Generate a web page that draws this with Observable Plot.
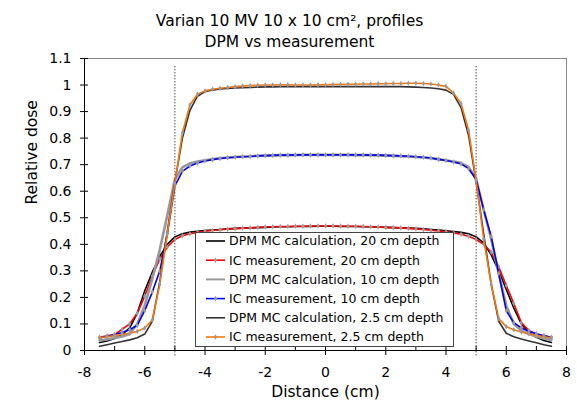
<!DOCTYPE html>
<html><head><meta charset="utf-8">
<script src="https://cdn.jsdelivr.net/npm/d3@7"></script>
<script src="https://cdn.jsdelivr.net/npm/@observablehq/plot@0.6"></script>
<style>
body{margin:0;background:#fff;}
#wrap{position:relative;width:577px;height:404px;font-family:"DejaVu Sans",Verdana,sans-serif;}
#wrap svg{display:block;}
#legend{position:absolute;left:0;top:0;}
</style></head><body><div id="wrap"></div>
<script>
// Distance (cm)
const xs = [-7.5,-7.25,-7,-6.75,-6.5,-6.25,-6,-5.75,-5.5,-5.25,-5,-4.75,-4.5,-4.25,-4,-3.75,-3.5,-3.25,-3,-2.75,-2.5,-2.25,-2,-1.75,-1.5,-1.25,-1,-0.75,-0.5,-0.25,0,0.25,0.5,0.75,1,1.25,1.5,1.75,2,2.25,2.5,2.75,3,3.25,3.5,3.75,4,4.25,4.5,4.75,5,5.25,5.5,5.75,6,6.25,6.5,6.75,7,7.25,7.5];

const dpm20 = [0.030,0.036,0.045,0.060,0.085,0.140,0.225,0.295,0.355,0.400,0.428,0.440,0.446,0.449,0.452,0.454,0.456,0.458,0.460,0.461,0.462,0.463,0.464,0.465,0.466,0.466,0.467,0.467,0.467,0.468,0.468,0.468,0.467,0.467,0.467,0.466,0.466,0.465,0.464,0.463,0.462,0.461,0.460,0.458,0.456,0.454,0.451,0.448,0.445,0.440,0.428,0.405,0.360,0.300,0.230,0.160,0.100,0.068,0.050,0.038,0.030];
const ic20 = [0.050,0.055,0.060,0.080,0.100,0.140,0.205,0.280,0.345,0.390,0.418,0.432,0.440,0.445,0.449,0.452,0.455,0.457,0.459,0.461,0.462,0.464,0.465,0.466,0.467,0.467,0.468,0.468,0.469,0.469,0.469,0.469,0.469,0.468,0.468,0.467,0.466,0.465,0.464,0.463,0.462,0.460,0.458,0.456,0.453,0.450,0.447,0.443,0.438,0.430,0.418,0.400,0.370,0.315,0.245,0.177,0.105,0.075,0.062,0.055,0.050];
const dpm10 = [0.038,0.042,0.047,0.053,0.062,0.100,0.170,0.270,0.380,0.510,0.645,0.690,0.705,0.712,0.717,0.721,0.724,0.727,0.729,0.731,0.732,0.733,0.734,0.735,0.736,0.736,0.736,0.737,0.737,0.737,0.737,0.737,0.737,0.737,0.736,0.736,0.736,0.735,0.734,0.733,0.732,0.731,0.729,0.727,0.724,0.721,0.717,0.712,0.706,0.692,0.645,0.530,0.420,0.290,0.170,0.100,0.075,0.062,0.053,0.045,0.040];
const ic10 = [0.047,0.053,0.060,0.068,0.078,0.095,0.150,0.220,0.300,0.440,0.620,0.675,0.695,0.706,0.714,0.719,0.723,0.726,0.728,0.730,0.731,0.733,0.734,0.735,0.736,0.736,0.737,0.737,0.737,0.737,0.737,0.737,0.737,0.737,0.737,0.737,0.736,0.736,0.735,0.734,0.733,0.732,0.730,0.728,0.725,0.720,0.716,0.710,0.703,0.685,0.645,0.530,0.430,0.290,0.150,0.105,0.085,0.072,0.063,0.055,0.050];
const dpm25 = [0.016,0.022,0.028,0.034,0.040,0.048,0.062,0.110,0.260,0.450,0.635,0.800,0.905,0.958,0.975,0.981,0.985,0.987,0.989,0.990,0.991,0.992,0.993,0.993,0.994,0.994,0.994,0.994,0.994,0.994,0.994,0.994,0.994,0.994,0.994,0.994,0.994,0.994,0.994,0.994,0.994,0.993,0.992,0.991,0.989,0.986,0.981,0.965,0.915,0.810,0.635,0.440,0.250,0.110,0.065,0.052,0.043,0.036,0.029,0.022,0.016];
const ic25 = [0.048,0.052,0.056,0.060,0.065,0.072,0.085,0.115,0.250,0.440,0.630,0.820,0.925,0.965,0.978,0.984,0.988,0.991,0.994,0.996,0.998,0.999,1.000,1.000,1.001,1.001,1.000,1.000,1.000,1.001,1.001,1.002,1.002,1.003,1.003,1.004,1.004,1.005,1.005,1.006,1.006,1.007,1.007,1.006,1.004,1.000,0.995,0.970,0.930,0.830,0.640,0.420,0.250,0.120,0.090,0.078,0.070,0.063,0.057,0.052,0.048];

const seriesNames = ["DPM MC calculation, 20 cm depth","IC measurement, 20 cm depth","DPM MC calculation, 10 cm depth","IC measurement, 10 cm depth","DPM MC calculation, 2.5 cm depth","IC measurement, 2.5 cm depth"];
const seriesValues = [dpm20, ic20, dpm10, ic10, dpm25, ic25];
const seriesColors = ["#000000","#ff0000","#999999","#0000ff","#333333","#ff7300"];
const seriesWidths = [1.6,1.6,2.6,1.6,1.6,1.6];
const seriesMarkers = [false,true,false,true,false,true];

const xTicks = [-8,-6,-4,-2,0,2,4,6,8];
const xMinorTicks = [-7,-5,-3,-1,1,3,5,7];
const yTicks = [0,0.1,0.2,0.3,0.4,0.5,0.6,0.7,0.8,0.9,1,1.1];
const fieldEdges = [-5,5];
const edgeSpan = [-0.02,1.07];
const titleLines = ["Varian 10 MV 10 x 10 cm², profiles","DPM vs measurement"];

const marks = [
  Plot.ruleY([1.1], {stroke:"#888"}),
  Plot.ruleX([8], {stroke:"#888"}),
  Plot.ruleX(fieldEdges, {y1: edgeSpan[0], y2: edgeSpan[1], stroke:"#000", strokeWidth:1, strokeDasharray:"1,2"}),
];
seriesValues.forEach((vals, k) => {
  marks.push(Plot.line(vals, {x:(d,i)=>xs[i], y:d=>d, stroke:seriesColors[k], strokeWidth:seriesWidths[k]}));
  if (seriesMarkers[k]) marks.push(Plot.dot(vals, {x:(d,i)=>xs[i], y:d=>d, r:1.7, fill:"#9a9a9a", symbol:"diamond"}));
});
marks.push(
  Plot.ruleY([0], {stroke:"#000"}),
  Plot.ruleX([-8], {stroke:"#000"}),
  Plot.axisX({ticks:xTicks, tickSize:9, dy:-4, tickFormat:()=>"" , stroke:"#000"}),
  Plot.axisX({ticks:xMinorTicks, tickSize:4, dy:-4, tickFormat:()=>"", stroke:"#000"}),
  Plot.axisX({ticks:xTicks, tickSize:0, tickPadding:17, fontSize:14, fill:"#000", tickFormat:d=>String(d).replace("−","-")}),
  Plot.axisY({ticks:yTicks, tickSize:8, dx:4, tickFormat:()=>"", stroke:"#000"}),
  Plot.axisY({ticks:yTicks, tickSize:0, tickPadding:13, fontSize:14, fill:"#000", tickFormat:d=>String(d)}),
  Plot.text([titleLines[0]], {frameAnchor:"top", dx:-36, dy:-44, fontSize:15.5, fill:"#000"}),
  Plot.text([titleLines[1]], {frameAnchor:"top", dx:-36, dy:-23, fontSize:15.5, fill:"#000"}),
  Plot.text(["Distance (cm)"], {frameAnchor:"bottom", dy:46, fontSize:15.5, fill:"#000"}),
  Plot.text(["Relative dose"], {frameAnchor:"left", dx:-52, rotate:-90, fontSize:15.5, fill:"#000"})
);

const chart = Plot.plot({
  width:577, height:404,
  marginTop:58, marginBottom:54, marginLeft:84, marginRight:11,
  style:{fontFamily:'"DejaVu Sans", Verdana, sans-serif', fontSize:"14px", background:"#fff", color:"#000"},
  x:{domain:[-8,8], axis:null},
  y:{domain:[0,1.1], axis:null},
  marks
});
document.getElementById("wrap").appendChild(chart);

// legend overlay
const lg = d3.select("#wrap").append("svg").attr("id","legend").attr("width",577).attr("height",404);
lg.append("rect").attr("x",195.5).attr("y",232.5).attr("width",258).attr("height",114).attr("fill","#fff").attr("stroke","#444").attr("stroke-width",1);
seriesNames.forEach((name,i)=>{
  const y = 241 + 19.2*i;
  lg.append("line").attr("x1",206).attr("x2",225).attr("y1",y).attr("y2",y).attr("stroke",seriesColors[i]).attr("stroke-width",Math.min(seriesWidths[i],2));
  if (seriesMarkers[i]) lg.append("path").attr("d",d3.symbol(d3.symbolDiamond, 9)()).attr("transform",`translate(215.5,${y})`).attr("fill","#9a9a9a");
  lg.append("text").attr("x",229).attr("y",y).attr("dy","0.35em").attr("font-size",12.5).attr("font-family",'"DejaVu Sans", Verdana, sans-serif').attr("fill","#000").text(name);
});
</script></body></html>
